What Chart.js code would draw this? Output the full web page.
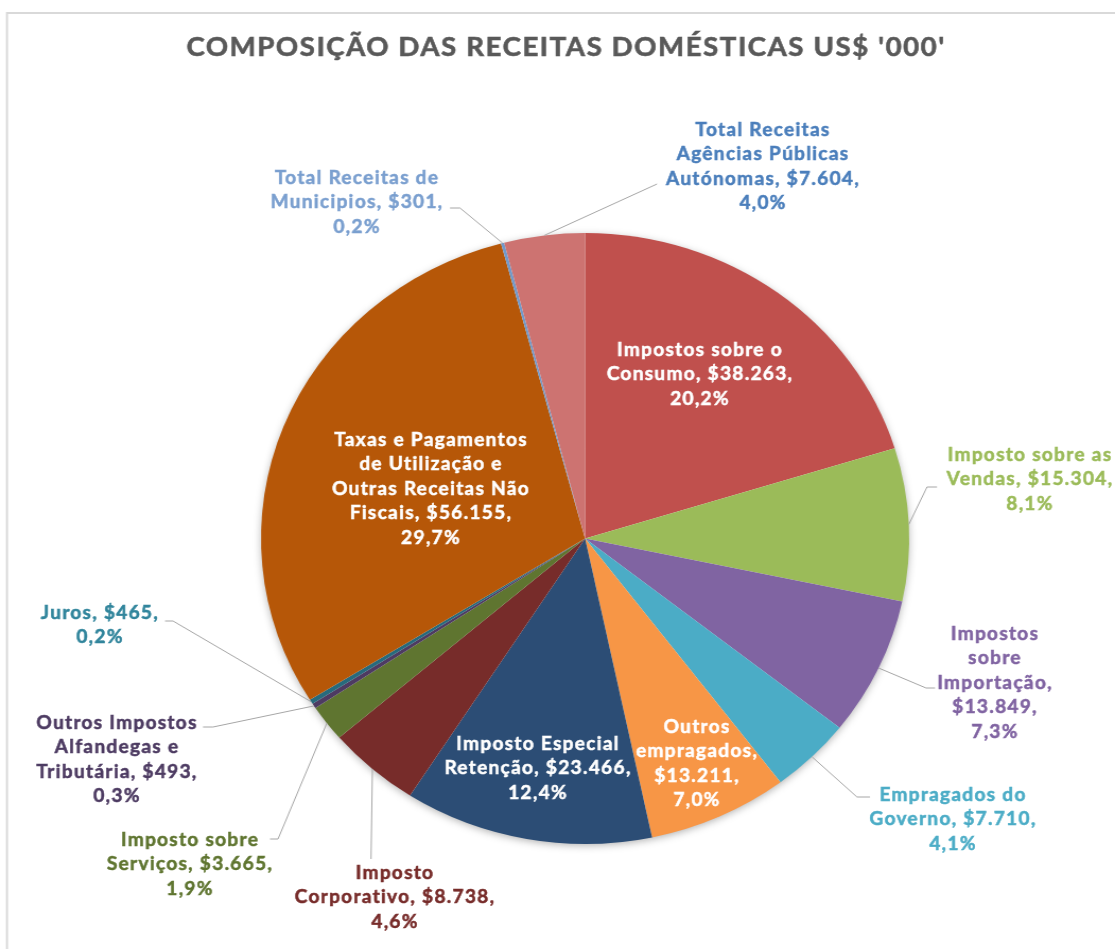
<!DOCTYPE html>
<html>
<head>
<meta charset="utf-8">
<script src="https://cdn.jsdelivr.net/npm/chart.js@4.4.0/dist/chart.umd.min.js"></script>
<style>
  html, body { margin: 0; padding: 0; background: #fff; overflow: hidden; }
  /* a imagem original está esticada na horizontal */
  #wrap { width: 1051px; height: 949px; transform: scaleX(1.0609); transform-origin: 0 0; }
</style>
</head>
<body>
<div id="wrap"><canvas id="receitasChart" width="1051" height="949"></canvas></div>
<script>
// dados
const titulo = "COMPOSIÇÃO DAS RECEITAS DOMÉSTICAS US$ '000'";
const categorias = [
  'Impostos sobre o Consumo',
  'Imposto sobre as Vendas',
  'Impostos sobre Importação',
  'Empragados do Governo',
  'Outros empragados',
  'Imposto Especial Retenção',
  'Imposto Corporativo',
  'Imposto sobre Serviços',
  'Outros Impostos Alfandegas e Tributária',
  'Juros',
  'Taxas e Pagamentos de Utilização e Outras Receitas Não Fiscais',
  'Total Receitas de Municipios',
  'Total Receitas Agências Públicas Autónomas'
];
const valores = [38263, 15304, 13849, 7710, 13211, 23466, 8738, 3665, 493, 465, 56155, 301, 7604];
const cores = ['#C0504D', '#9BBB59', '#8064A2', '#4BACC6', '#F79646', '#2C4D75', '#772C2A',
               '#5F7530', '#4D3B62', '#276A7C', '#B65708', '#729ACA', '#CD7371'];
const coresTexto = ['#FFFFFF', '#9BBB59', '#8064A2', '#4BACC6', '#FFFFFF', '#FFFFFF', '#772C2A',
                    '#5F7530', '#4D3B62', '#31859C', '#FFFFFF', '#7A9FCF', '#4A7EBB'];

// posição dos rótulos (coordenadas da imagem), quebras de linha e linhas guia
const SX = 1115 / 1051;
const rotulos = [
  { x: 700, y: 350, quebras: [3, 2, 1] },
  { x: 1030, y: 455, quebras: [3, 2, 1], guia: [[927, 487], [937, 487]] },
  { x: 995, y: 634, quebras: [1, 1, 1, 1, 1], guia: [[926, 688], [935, 688]] },
  { x: 953, y: 795, quebras: [2, 2, 1], guia: [[857, 797], [870, 797]] },
  { x: 697, y: 727, quebras: [1, 1, 1, 1] },
  { x: 538, y: 744, quebras: [2, 2, 1] },
  { x: 395, y: 873, quebras: [1, 2, 1], guia: [[371, 859]] },
  { x: 190, y: 840, quebras: [2, 2, 1], guia: [[278, 839], [270, 839]] },
  { x: 117, y: 723, quebras: [2, 2, 2, 1], guia: [[213, 727], [203, 727]] },
  { x: 100, y: 613, quebras: [2, 1], guia: [[173, 621], [165, 621]] },
  { x: 431, y: 440, quebras: [3, 3, 3, 2, 1] },
  { x: 357, y: 178, quebras: [3, 2, 1], guia: [[460, 208], [450, 208]] },
  { x: 763, y: 130, quebras: [2, 2, 2, 1], guia: [[657, 184]] }
];

const total = valores.reduce((a, b) => a + b, 0);
const fmtValor = v => '$' + String(v).replace(/\B(?=(\d{3})+(?!\d))/g, '.');
const fmtPct = v => (v / total * 100).toFixed(1).replace('.', ',') + '%';

function linhasRotulo(i) {
  const palavras = categorias[i].split(' ');
  palavras[palavras.length - 1] += ',';
  palavras.push(fmtValor(valores[i]) + ',', fmtPct(valores[i]));
  const linhas = [];
  let k = 0;
  rotulos[i].quebras.forEach(n => { linhas.push(palavras.slice(k, k + n).join(' ')); k += n; });
  return linhas;
}

const pluginRotulos = {
  id: 'pluginRotulos',
  beforeDraw(chart) {
    const ctx = chart.ctx;
    ctx.save();
    // moldura
    ctx.strokeStyle = '#D9D9D9';
    ctx.lineWidth = 2;
    ctx.strokeRect(7 / SX, 13, 1200, 1000);
    // título
    ctx.fillStyle = '#595959';
    ctx.strokeStyle = '#595959';
    ctx.lineWidth = 0.6;
    ctx.font = 'bold 26px Lato';
    ctx.letterSpacing = '1.5px';
    ctx.textAlign = 'center';
    ctx.textBaseline = 'middle';
    ctx.fillText(titulo, 566 / SX, 48);
    ctx.strokeText(titulo, 566 / SX, 48);
    ctx.restore();
  },
  beforeDatasetsDraw(chart) {
    // sombra da pizza
    const arc = chart.getDatasetMeta(0).data[0];
    const ctx = chart.ctx;
    ctx.save();
    ctx.shadowColor = 'rgba(0,0,0,0.35)';
    ctx.shadowBlur = 9;
    ctx.shadowOffsetY = 2;
    ctx.fillStyle = '#fff';
    ctx.beginPath();
    ctx.arc(arc.x, arc.y, arc.outerRadius - 1, 0, Math.PI * 2);
    ctx.fill();
    ctx.restore();
  },
  afterDatasetsDraw(chart) {
    const ctx = chart.ctx;
    const arcs = chart.getDatasetMeta(0).data;
    ctx.save();
    // linhas guia
    ctx.strokeStyle = '#A6A6A6';
    ctx.lineWidth = 1;
    arcs.forEach((a, i) => {
      const r = rotulos[i];
      if (!r.guia) return;
      const ang = (a.startAngle + a.endAngle) / 2;
      ctx.beginPath();
      ctx.moveTo(a.x + Math.cos(ang) * a.outerRadius, a.y + Math.sin(ang) * a.outerRadius);
      r.guia.forEach(p => ctx.lineTo(p[0] / SX, p[1]));
      ctx.stroke();
    });
    // textos
    ctx.font = 'bold 18px Lato';
    ctx.letterSpacing = '1.2px';
    ctx.textAlign = 'center';
    ctx.textBaseline = 'middle';
    ctx.lineWidth = 0.5;
    arcs.forEach((a, i) => {
      const r = rotulos[i];
      ctx.fillStyle = coresTexto[i];
      ctx.strokeStyle = coresTexto[i];
      linhasRotulo(i).forEach((t, j) => {
        ctx.fillText(t, r.x / SX, r.y + j * 24.5);
        ctx.strokeText(t, r.x / SX, r.y + j * 24.5);
      });
    });
    ctx.restore();
  }
};

const receitasChart = new Chart(document.getElementById('receitasChart'), {
  type: 'pie',
  data: {
    labels: categorias,
    datasets: [{
      data: valores,
      backgroundColor: cores,
      borderWidth: 0,
      hoverOffset: 0,
      offset: 0
    }]
  },
  options: {
    responsive: false,
    animation: false,
    layout: { padding: { left: 246, right: 194, top: 233, bottom: 105 } },
    plugins: {
      legend: { display: false },
      tooltip: { enabled: false },
      title: { display: false }
    }
  },
  plugins: [pluginRotulos]
});
</script>
</body>
</html>
